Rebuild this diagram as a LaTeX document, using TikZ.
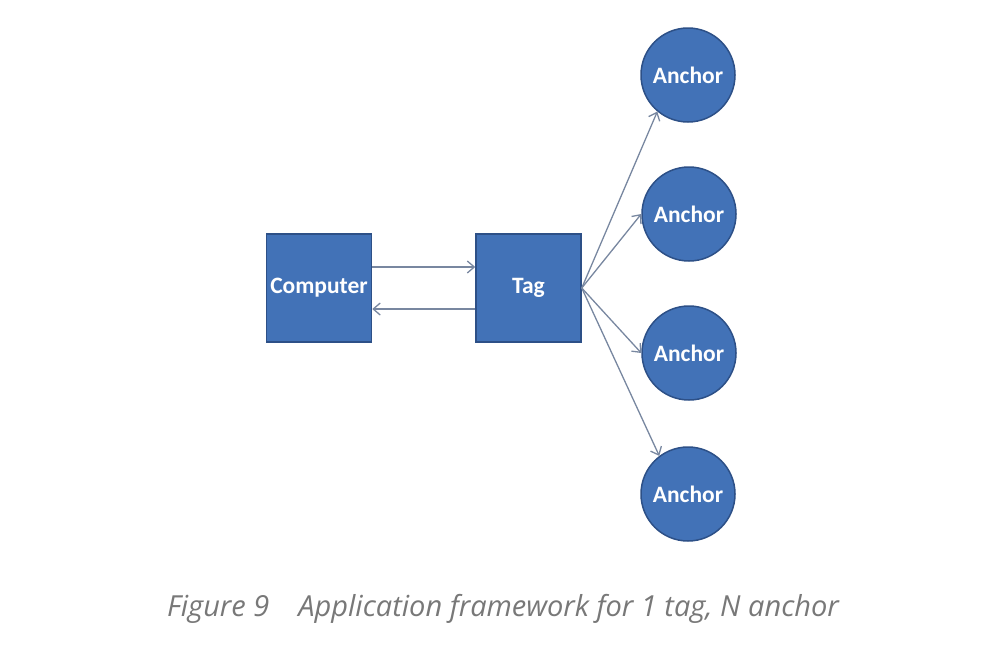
\documentclass[tikz,border=0pt]{standalone}
\usepackage{fontspec}
\setmainfont{Carlito}
\newfontfamily\capfont{Open Sans}
\usetikzlibrary{arrows.meta}
\definecolor{boxfill}{RGB}{66,114,183}
\definecolor{boxline}{RGB}{45,80,135}
\definecolor{arrowgray}{RGB}{120,135,160}
\definecolor{captext}{RGB}{120,120,120}
\tikzset{
  blockbox/.style={draw=boxline, line width=1.5pt, fill=boxfill, minimum width=105pt, minimum height=108pt, text=white, font=\bfseries\fontsize{23.5}{26}\selectfont, inner sep=0pt},
  anchorcirc/.style={circle, draw=boxline, line width=1.5pt, fill=boxfill, minimum size=94pt, text=white, font=\bfseries\fontsize{23.5}{26}\selectfont, inner sep=0pt},
  link/.style={draw=arrowgray, line width=1.3pt, -{Straight Barb[length=7pt,width=12pt]}}
}
\begin{document}
\begin{tikzpicture}[x=1pt,y=-1pt]
\useasboundingbox (0,0) rectangle (1000,656);
\node[blockbox] (comp) at (319,288) {Computer};
\node[blockbox] (tag) at (528.5,288) {Tag};
\node[anchorcirc] (a1) at (688,75) {Anchor};
\node[anchorcirc] (a2) at (689,214) {Anchor};
\node[anchorcirc] (a3) at (689,353) {Anchor};
\node[anchorcirc] (a4) at (688,494) {Anchor};
\draw[link] (comp.east |- 0,267) -- (tag.west |- 0,267);
\draw[link] (tag.west |- 0,309) -- (comp.east |- 0,309);
\draw[link] (tag.east) -- (a1.230);
\draw[link] (tag.east) -- (a2.180);
\draw[link] (tag.east) -- (a3.180);
\draw[link] (tag.east) -- (a4.127);
\node[font=\capfont\itshape\fontsize{29}{34}\selectfont, text=captext] (cap) at (503,609) {Figure 9\hspace{1em}Application framework for 1 tag, N anchor};
\end{tikzpicture}
\end{document}
